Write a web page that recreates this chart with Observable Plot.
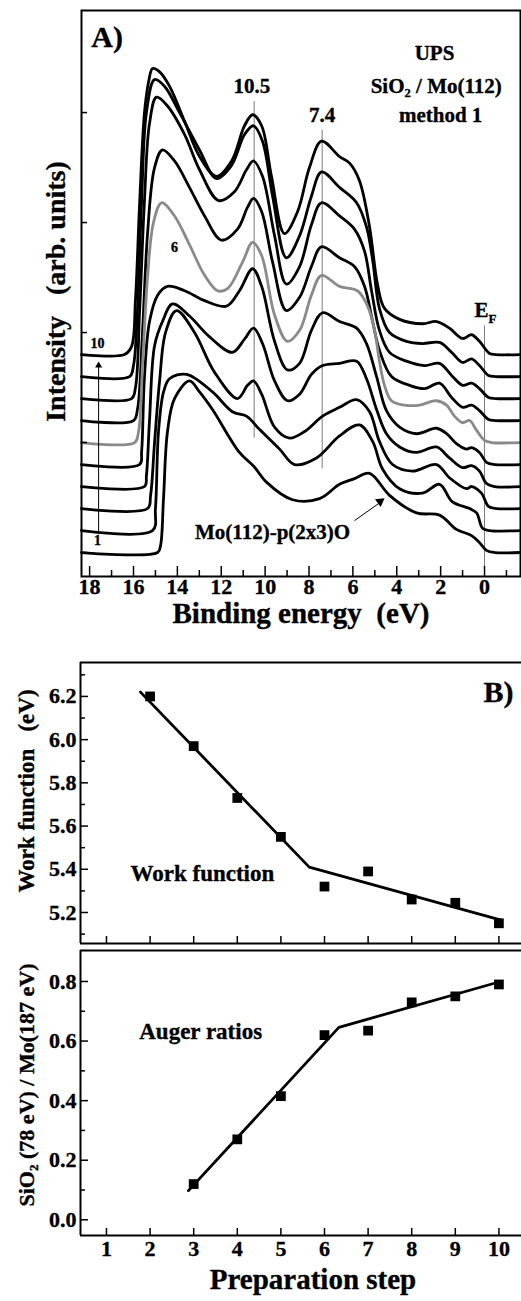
<!DOCTYPE html>
<html><head><meta charset="utf-8">
<script src="https://cdn.jsdelivr.net/npm/d3@7"></script>
<script src="https://cdn.jsdelivr.net/npm/@observablehq/plot@0.6"></script>
<style>
body{margin:0;background:#fff;}
#wrap{position:relative;width:521px;height:1301px;overflow:hidden;background:#fff;}
</style></head><body><div id="wrap"></div>
<script>
// ---------- Panel A: UPS spectra (binding energy eV, intensity arb. units above own baseline)
const spec1 = [[18.37,0],[14.90,0],[14.77,0.3],[14.63,2.5],[14.45,5.5],[14.13,7.0],[13.45,7.8],[12.99,7.3],[12.40,6.5],[11.17,4.55],[10.5,3.9],[9.94,3.2],[8.75,2.4],[7.52,2.45],[6.61,3.1],[5.93,3.36],[5.24,3.6],[4.33,2.6],[3.10,1.8],[2.05,1.7],[1.28,1.05],[0.59,0.77],[0.23,0.45],[-0.09,0.1],[-0.46,0],[-1.64,0]];
const spec2 = [[18.37,0],[15.13,0],[15.0,1.0],[14.86,4.5],[14.63,6.3],[14.36,6.9],[13.58,7.1],[12.40,6.3],[11.49,5.4],[10.85,5.2],[10.26,4.6],[9.34,3.7],[8.66,3.0],[7.66,3.3],[6.61,4.3],[5.70,4.8],[5.10,4.05],[4.65,2.8],[3.87,1.9],[2.83,1.7],[2.05,2.1],[1.46,1.3],[0.68,1.0],[0.36,0.8],[0.09,0.1],[-0.23,0],[-1.64,0]];
const spec3 = [[18.37,0],[15.36,0],[15.22,0.6],[15.04,3.0],[14.81,5.8],[14.54,8.0],[14.04,9.0],[13.22,8.0],[12.31,6.2],[11.26,5.0],[10.80,5.6],[10.53,5.8],[10.16,5.2],[9.57,3.7],[8.89,3.2],[8.20,3.5],[7.38,4.2],[6.61,4.6],[5.83,4.95],[5.24,4.4],[4.79,3.05],[4.19,2.0],[3.28,1.7],[2.19,2.0],[1.60,1.4],[0.82,0.9],[0.59,1.0],[0.14,0.7],[-0.18,0.1],[-0.55,0],[-1.64,0]];
const spec4 = [[18.37,0],[15.50,0],[15.41,0.5],[15.27,3.0],[15.04,6.4],[14.68,7.5],[14.22,8.3],[13.45,7.75],[12.53,6.8],[11.49,6.1],[10.94,6.7],[10.53,7.2],[10.12,6.5],[9.57,4.8],[8.98,3.9],[8.43,4.2],[7.89,5.1],[7.38,5.5],[6.61,5.6],[5.83,5.7],[5.38,4.9],[4.92,3.5],[4.47,2.4],[3.87,1.8],[3.10,1.55],[2.19,1.8],[1.60,1.3],[1.00,0.86],[0.59,0.95],[0.23,0.7],[-0.09,0.14],[-0.46,0],[-1.64,0]];
const spec5 = [[18.37,0],[15.72,0],[15.63,0.6],[15.50,4.0],[15.27,6.5],[14.90,7.7],[14.45,8.1],[13.67,7.9],[12.76,7.45],[11.76,7.2],[11.17,7.9],[10.57,8.9],[10.16,8.1],[9.57,5.6],[8.98,4.3],[8.43,4.6],[7.89,6.1],[7.38,6.9],[6.61,6.5],[5.83,6.2],[5.38,5.5],[4.92,4.0],[4.47,2.45],[3.87,1.7],[3.10,1.4],[2.19,1.65],[1.73,1.4],[1.28,0.95],[0.82,0.7],[0.59,0.77],[0.23,0.55],[-0.09,0.1],[-0.46,0],[-1.64,0]];
const spec6 = [[18.37,0],[15.95,0],[15.77,0.5],[15.59,3.5],[15.36,7.5],[15.09,10.0],[14.72,10.9],[14.13,10.3],[13.45,9.0],[12.76,7.6],[12.17,6.9],[11.71,7.0],[11.03,8.2],[10.57,9.1],[10.16,8.5],[9.57,5.8],[8.98,4.6],[8.43,5.1],[7.89,6.7],[7.43,7.6],[6.61,7.1],[5.79,6.9],[5.33,6.2],[5.01,5.1],[4.79,3.7],[4.56,2.6],[4.24,1.9],[3.65,1.7],[2.96,1.7],[2.19,1.9],[1.73,1.7],[1.37,1.2],[1.00,0.9],[0.68,1.0],[0.36,0.55],[0.00,0.1],[-0.32,0],[-1.64,0]];
const spec7 = [[18.37,0],[16.00,0],[15.82,0.5],[15.59,4],[15.36,8.5],[15.04,11.5],[14.68,12.3],[14.13,11.8],[13.45,10.6],[12.76,9.3],[11.99,8.2],[11.26,8.7],[10.80,9.7],[10.53,10.1],[10.16,9.5],[9.66,7.2],[9.03,5.0],[8.43,5.6],[7.89,7.0],[7.43,7.9],[6.61,7.4],[5.93,7.0],[5.47,6.1],[5.10,4.5],[4.79,3.2],[4.24,2.0],[3.42,1.6],[2.73,1.45],[2.05,1.7],[1.50,1.05],[1.00,0.6],[0.59,0.7],[0.23,0.45],[-0.18,0.05],[-0.5,0],[-1.64,0]];
const spec8 = [[18.37,0],[16.09,0],[15.91,0.5],[15.72,4],[15.50,9],[15.27,12.5],[14.95,13.7],[14.45,13.3],[13.67,12.0],[12.99,10.4],[12.12,9.0],[11.40,9.4],[10.85,10.4],[10.53,10.8],[10.12,10.1],[9.57,7.4],[9.03,5.2],[8.43,6.0],[7.89,7.9],[7.43,8.9],[6.61,8.3],[5.93,7.7],[5.47,6.7],[5.15,4.9],[4.79,3.1],[4.33,2.1],[3.56,1.7],[2.73,1.5],[2.05,1.6],[1.50,1.05],[1.00,0.6],[0.59,0.7],[0.23,0.45],[-0.18,0.05],[-0.5,0],[-1.64,0]];
const spec9 = [[18.37,0],[16.18,0],[16.00,0.5],[15.82,3],[15.63,8],[15.41,12],[15.04,13.5],[14.59,13.2],[13.90,12.0],[12.99,10.3],[12.22,9.0],[11.53,9.6],[10.94,11.0],[10.53,11.4],[10.12,10.7],[9.66,8.2],[9.03,5.4],[8.43,6.4],[7.89,8.2],[7.43,9.3],[6.61,8.6],[5.83,7.9],[5.38,6.8],[5.10,5.3],[4.79,3.1],[4.33,2.0],[3.56,1.6],[2.83,1.5],[2.05,1.55],[1.50,1.1],[1.00,0.64],[0.59,0.8],[0.23,0.5],[-0.18,0.05],[-0.5,0],[-1.64,0]];
const spec10 = [[18.37,0],[16.41,0],[16.09,0.36],[15.91,2.5],[15.72,6.9],[15.50,11.0],[15.31,12.4],[15.13,13.0],[14.81,12.85],[14.36,12.2],[13.67,10.6],[12.99,9.0],[12.22,8.1],[11.53,8.8],[10.94,10.4],[10.57,10.9],[10.16,10.4],[9.71,8.1],[9.12,5.5],[8.52,6.5],[7.98,8.5],[7.43,9.7],[6.61,9.0],[6.15,8.7],[5.70,7.9],[5.24,5.8],[4.88,3.2],[4.56,2.1],[3.87,1.6],[2.83,1.4],[2.19,1.5],[1.60,1.2],[1.00,0.73],[0.59,0.9],[0.23,0.6],[-0.23,0.05],[-0.5,0],[-1.64,0]];
const specOffset = 1;             // vertical stacking step between spectra
const highlightStep = 6;          // grey spectrum
const beDomain = [18.37, -1.64];
const intDomain = [-1.09, 24.64];
const beMajor = [18,16,14,12,10,8,6,4,2,0];
const beMinor = [17,15,13,11,9,7,5,3,1,-1];
const intTicks = [0,5,10,15,20];
const guideBE = [10.5, 7.4, 0];
const guideLo = [5.2, 3.8, -1.09];
const guideHi = [20.5, 19.2, 10.3];

// ---------- Panel B: work function
const wfStep = [2,3,4,5,6,7,8,9,10];
const wfValue = [6.20,5.97,5.73,5.55,5.32,5.39,5.26,5.245,5.15];
const wfFitStep = [1.78,5.65,10.05];
const wfFitValue = [6.22,5.41,5.165];
const wfDomain = [5.0565, 6.357];
const wfMajor = [5.2,5.4,5.6,5.8,6.0,6.2];
const wfMinor = [5.1,5.3,5.5,5.7,5.9,6.1,6.3];

// ---------- Panel C: Auger ratios
const augStep = [3,4,5,6,7,8,9,10];
const augValue = [0.12,0.27,0.415,0.62,0.635,0.73,0.75,0.79];
const augFitStep = [2.88,6.33,10.04];
const augFitValue = [0.098,0.646,0.80];
const augDomain = [-0.0527, 0.904];
const augMajor = [0,0.2,0.4,0.6,0.8];
const augMinor = [0.1,0.3,0.5,0.7];
const stepDomain = [0.404, 10.518];
const stepTicks = [1,2,3,4,5,6,7,8,9,10];

const FONT = "'Liberation Serif','Times New Roman','DejaVu Serif',serif";
const wrap = document.getElementById("wrap");
function place(svg, top){
  svg.style.position="absolute"; svg.style.left="0px"; svg.style.top=top+"px";
  svg.style.overflow="visible"; svg.style.maxWidth="none"; svg.style.background="transparent";
  wrap.appendChild(svg);
}
const B = {fontWeight:"bold", fill:"#000", stroke:"#000", strokeWidth:0.35};

// ---- build rows
const spectra = [spec1,spec2,spec3,spec4,spec5,spec6,spec7,spec8,spec9,spec10];
const specRows = spectra.flatMap((s,i)=>s.map(([be,h])=>({be, y:h+i*specOffset, step:i+1})));
const guides = guideBE.map((be,i)=>({be, lo:guideLo[i], hi:guideHi[i]}));
const wfRows = wfStep.map((s,i)=>({step:s, v:wfValue[i]}));
const wfFit = wfFitStep.map((s,i)=>({step:s, v:wfFitValue[i]}));
const augRows = augStep.map((s,i)=>({step:s, v:augValue[i]}));
const augFit = augFitStep.map((s,i)=>({step:s, v:augFitValue[i]}));

// ---------------- Panel A
const plotA = Plot.plot({
  width:521, height:640, marginLeft:81, marginRight:1, marginTop:10, marginBottom:64,
  style:{fontFamily:FONT, background:"transparent"},
  x:{domain:beDomain, axis:null},
  y:{domain:intDomain, axis:null},
  marks:[
    Plot.ruleX(guides,{x:"be", y1:"lo", y2:"hi", stroke:"#7a7a7a", strokeWidth:1}),
    Plot.line(specRows.filter(d=>d.step!==highlightStep),{x:"be", y:"y", z:"step", curve:"catmull-rom", stroke:"#000", strokeWidth:2.8}),
    Plot.line(specRows.filter(d=>d.step===highlightStep),{x:"be", y:"y", curve:"catmull-rom", stroke:"#8a8a8a", strokeWidth:2.8}),
    Plot.frame({stroke:"#000", strokeWidth:2}),
    Plot.ruleX(beMajor,{insetTop:556, stroke:"#000", strokeWidth:1.5}),
    Plot.ruleX(beMinor,{insetTop:560, stroke:"#000", strokeWidth:1.5}),
    Plot.ruleY(intTicks,{insetRight:433, stroke:"#000", strokeWidth:1.5}),
    Plot.text(beMajor,{x:d=>d, text:d=>String(d), frameAnchor:"bottom", dy:17, fontSize:22, ...B}),
    Plot.text(["Binding energy\u00a0 (eV)"],{frameAnchor:"bottom", dy:46, fontSize:29, ...B}),
    Plot.text(["Intensity\u00a0\u00a0 (arb. units)"],{frameAnchor:"left", textAnchor:"middle", dx:-25, dy:-2, rotate:-90, fontSize:28, ...B}),
    Plot.text(["A)"],{x:[17.2], y:[23.4], fontSize:30, ...B}),
    Plot.text(["UPS"],{x:[2.28], y:[22.7], fontSize:21, ...B}),
    Plot.text(["SiO\u2082 / Mo(112)"],{x:[2.2], y:[21.2], fontSize:21, ...B}),
    Plot.text(["method 1"],{x:[2.0], y:[19.9], fontSize:21, ...B}),
    Plot.text(["10.5"],{x:[10.6], y:[21.2], fontSize:21, ...B}),
    Plot.text(["7.4"],{x:[7.4], y:[19.9], fontSize:21, ...B}),
    Plot.text(["E"],{x:[0.14], y:[11.0], fontSize:21, ...B}),
    Plot.text(["F"],{x:[-0.36], y:[10.64], fontSize:13, ...B}),
    Plot.text(["6"],{x:[14.13], y:[13.86], fontSize:14, ...B}),
    Plot.text(["10"],{x:[17.64], y:[9.5], fontSize:14, ...B}),
    Plot.text(["1"],{x:[17.64], y:[0.55], fontSize:14, ...B}),
    Plot.link([0],{x1:[17.59], x2:[17.59], y1:[0.9], y2:[8.5], stroke:"#000", strokeWidth:1}),
    Plot.dot([0],{x:[17.59], y:[8.5], symbol:"triangle", r:2.6, fill:"#000", stroke:"none"}),
    Plot.text(["Mo(112)-p(2x3)O"],{x:[9.66], y:[0.91], fontSize:21, ...B}),
    Plot.link([0],{x1:[5.93], y1:[1.45], x2:[4.72], y2:[2.3], stroke:"#000", strokeWidth:1}),
    Plot.dot([0],{x:[4.76], y:[2.32], symbol:"triangle", r:3.6, rotate:54, fill:"#000", stroke:"none"})
  ]
});
place(plotA, 0);

// ---------------- Panel B
const plotB = Plot.plot({
  width:521, height:295, marginLeft:80, marginRight:0, marginTop:7, marginBottom:7,
  style:{fontFamily:FONT, background:"transparent"},
  x:{domain:stepDomain, axis:null},
  y:{domain:wfDomain, axis:null},
  marks:[
    Plot.ruleY(wfDomain,{stroke:"#000", strokeWidth:2}),
    Plot.ruleX([stepDomain[0]],{stroke:"#000", strokeWidth:2}),
    Plot.ruleX(stepTicks,{insetTop:274, stroke:"#000", strokeWidth:1.5}),
    Plot.ruleY(wfMajor,{insetRight:433, stroke:"#000", strokeWidth:1.5}),
    Plot.ruleY(wfMinor,{insetRight:436, stroke:"#000", strokeWidth:1.5}),
    Plot.text(wfMajor,{y:d=>d, text:d=>d.toFixed(1), frameAnchor:"left", dx:-4, textAnchor:"end", fontSize:22, ...B}),
    Plot.line(wfFit,{x:"step", y:"v", stroke:"#000", strokeWidth:2.8}),
    Plot.dot(wfRows,{x:"step", y:"v", symbol:"square", r:5.5, fill:"#000", stroke:"none"}),
    Plot.text(["Work function"],{x:[3.2], y:[5.38], fontSize:23, ...B}),
    Plot.text(["B)"],{x:[9.99], y:[6.22], fontSize:30, ...B}),
    Plot.text(["Work function\u00a0\u00a0 (eV)"],{frameAnchor:"left", textAnchor:"middle", dx:-54, dy:-12, rotate:-90, fontSize:23, ...B})
  ]
});
place(plotB, 655);

// ---------------- Panel C
const plotC = Plot.plot({
  width:521, height:356, marginLeft:80, marginRight:0, marginTop:5, marginBottom:66,
  style:{fontFamily:FONT, background:"transparent"},
  x:{domain:stepDomain, axis:null},
  y:{domain:augDomain, axis:null},
  marks:[
    Plot.ruleY(augDomain,{stroke:"#000", strokeWidth:2}),
    Plot.ruleX([stepDomain[0]],{stroke:"#000", strokeWidth:2}),
    Plot.ruleX(stepTicks,{insetTop:278, stroke:"#000", strokeWidth:1.5}),
    Plot.ruleY(augMajor,{insetRight:433, stroke:"#000", strokeWidth:1.5}),
    Plot.ruleY(augMinor,{insetRight:436, stroke:"#000", strokeWidth:1.5}),
    Plot.text(augMajor,{y:d=>d, text:d=>d.toFixed(1), frameAnchor:"left", dx:-4, textAnchor:"end", fontSize:22, ...B}),
    Plot.text(stepTicks,{x:d=>d, text:d=>String(d), frameAnchor:"bottom", dy:20, fontSize:22, ...B}),
    Plot.text(["Preparation step"],{frameAnchor:"bottom", dy:53, dx:12, fontSize:29, ...B}),
    Plot.line(augFit,{x:"step", y:"v", stroke:"#000", strokeWidth:2.8}),
    Plot.dot(augRows,{x:"step", y:"v", symbol:"square", r:5.5, fill:"#000", stroke:"none"}),
    Plot.text(["Auger ratios"],{x:[3.16], y:[0.632], fontSize:23, ...B}),
    Plot.text(["SiO\u2082 (78 eV) / Mo(187 eV)"],{frameAnchor:"left", textAnchor:"middle", dx:-54, dy:-8, rotate:-90, fontSize:22, ...B})
  ]
});
place(plotC, 945);
</script>
</body></html>
